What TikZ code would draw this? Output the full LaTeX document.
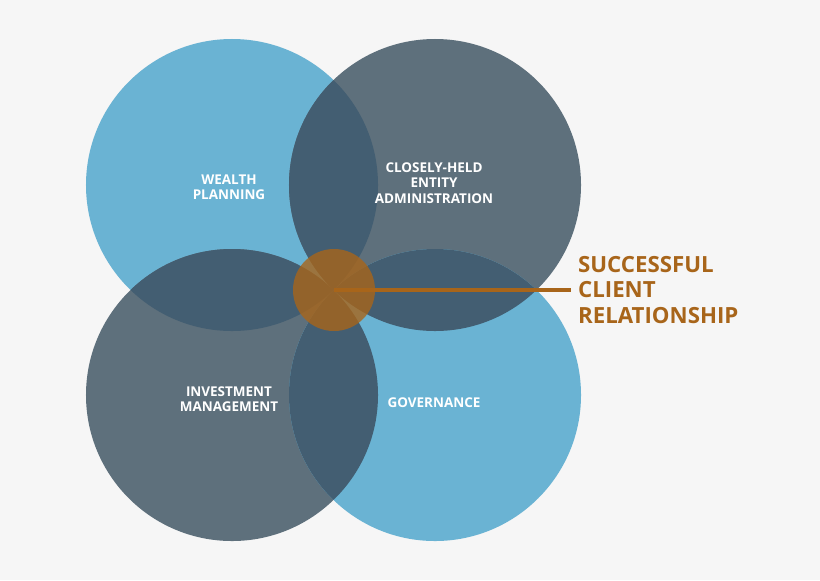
\documentclass[tikz,border=0pt]{standalone}
\usepackage{fontspec}
\setmainfont{Open Sans}
\usepackage{xcolor}
\definecolor{bgcol}{HTML}{F6F6F6}
\definecolor{lightcol}{HTML}{6AB3D3}
\definecolor{darkcol}{HTML}{5E707C}
\definecolor{overcol}{HTML}{435E72}
\definecolor{goldcol}{HTML}{A8651A}
\begin{document}
\begin{tikzpicture}[
    x=0.03cm, y=-0.03cm,
    area/.style={circle, minimum size=8.76cm, inner sep=0},
    lighty/.style={area, fill=lightcol},
    darky/.style={area, fill=darkcol},
    lbl/.style={text=white, align=center, font=\bfseries\fontsize{11.5}{13}\selectfont},
    core/.style={circle, minimum size=2.46cm, inner sep=0, fill=goldcol, fill opacity=0.8}]
\fill[bgcol] (0,0) rectangle (820,580);
\useasboundingbox (0,0) rectangle (820,580);
% four areas
\node[lighty] (wealth) at (232,185) {};
\node[darky] (entity) at (435,185) {};
\node[darky] (invest) at (232,395) {};
\node[lighty] (govern) at (435,395) {};
% overlaps
\foreach \a/\b in {wealth/entity, wealth/invest, entity/govern, invest/govern} {
  \begin{scope}
    \clip (\a.center) circle[radius=4.38cm];
    \fill[overcol] (\b.center) circle[radius=4.38cm];
  \end{scope}
}
% labels
\node[lbl] (wealthtxt) at (229,187) {WEALTH\\PLANNING};
\node[lbl] (entitytxt) at (434,183) {CLOSELY-HELD\\ENTITY\\ADMINISTRATION};
\node[lbl] (investtxt) at (229,399) {INVESTMENT\\MANAGEMENT};
\node[lbl] (governtxt) at (434,403) {GOVERNANCE};
% centre
\node[core] (client) at (334,290) {};
\node[anchor=west, align=left, text=goldcol, font=\bfseries\fontsize{19}{21.5}\selectfont]
    (clienttxt) at (574,290) {SUCCESSFUL\\CLIENT\\RELATIONSHIP};
\draw[goldcol, line width=2.8pt] (client.center) -- ([xshift=-0.1cm]clienttxt.west);
\end{tikzpicture}
\end{document}
